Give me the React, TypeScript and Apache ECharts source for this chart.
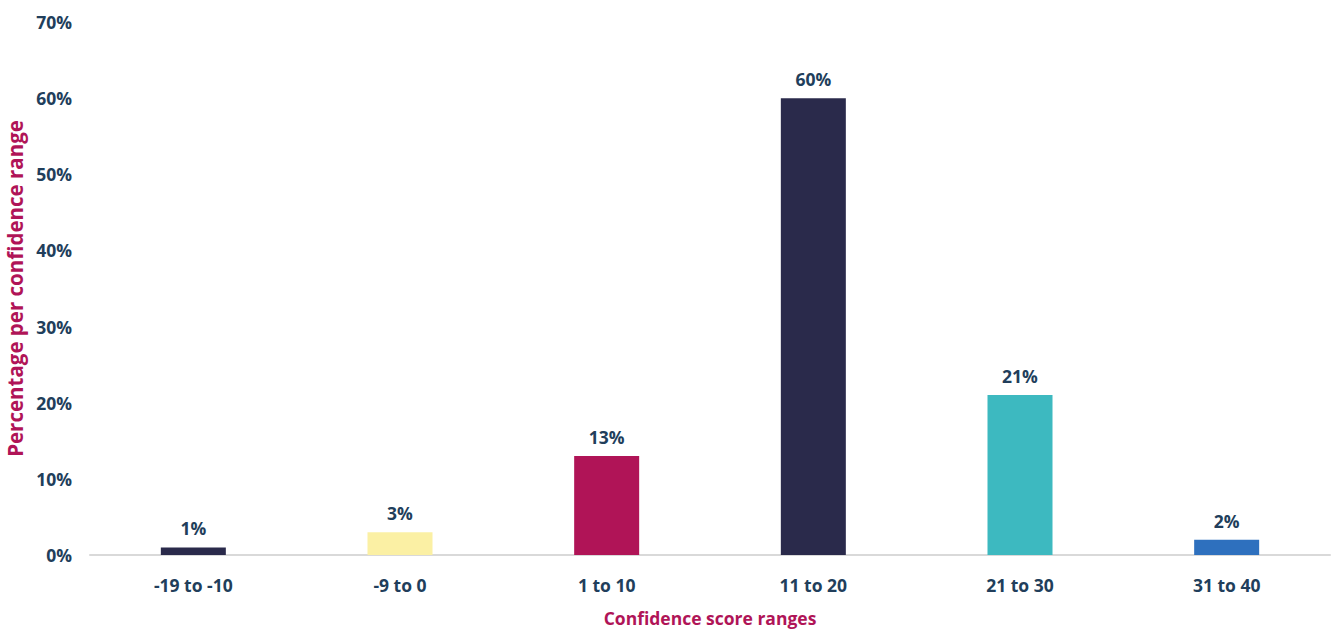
import React, { useEffect, useRef } from "react";
import * as echarts from "echarts";

const categories = ["-19 to -10", "-9 to 0", "1 to 10", "11 to 20", "21 to 30", "31 to 40"];
const values = [1, 3, 13, 60, 21, 2];
const barColors = ["#2a2a4b", "#fbf0a4", "#b01457", "#2a2a4b", "#3db9c0", "#2e70be"];
const yTicks = [0, 10, 20, 30, 40, 50, 60, 70];

const textColor = "#213e5b";
const titleColor = "#b01457";
const font = "'Open Sans', sans-serif";

export default function App() {
  const ref = useRef<HTMLDivElement>(null);
  useEffect(() => {
    if (!ref.current) return;
    const chart = echarts.init(ref.current, undefined, { renderer: "svg" });
    chart.setOption({
      animation: false,
      grid: { left: 90, right: 6, top: 22, bottom: 76, containLabel: false, outerBoundsMode: "none" },
      xAxis: {
        type: "category",
        data: categories,
        name: "Confidence score ranges",
        nameLocation: "middle",
        nameGap: 54,
        nameTextStyle: { color: titleColor, fontFamily: font, fontWeight: "bold", fontSize: 17.5 },
        axisLine: { lineStyle: { color: "#d9d9d9", width: 2 } },
        axisTick: { show: false },
        axisLabel: { color: textColor, fontFamily: font, fontWeight: "bold", fontSize: 17.5, margin: 21 },
      },
      yAxis: {
        type: "value",
        min: yTicks[0],
        max: yTicks[yTicks.length - 1],
        interval: 10,
        name: "Percentage per confidence range",
        nameLocation: "middle",
        nameGap: 63,
        nameTextStyle: { color: titleColor, fontFamily: font, fontWeight: "bold", fontSize: 20.5 },
        axisLine: { show: false },
        axisTick: { show: false },
        splitLine: { show: false },
        axisLabel: {
          color: textColor,
          fontFamily: font,
          fontWeight: "bold",
          fontSize: 17.5,
          margin: 18,
          formatter: (v: number) => `${v}%`,
        },
      },
      series: [
        {
          type: "bar",
          barWidth: 65,
          data: values.map((v, i) => ({ value: v, itemStyle: { color: barColors[i] } })),
          label: {
            show: true,
            position: "top",
            distance: 10,
            color: textColor,
            fontFamily: font,
            fontWeight: "bold",
            fontSize: 17.5,
            formatter: (p: any) => `${p.value}%`,
          },
        },
      ],
    });
    return () => chart.dispose();
  }, []);
  return <div ref={ref} style={{ position: "fixed", left: 0, top: 0, width: 1336, height: 631, background: "#fff" }} />;
}
